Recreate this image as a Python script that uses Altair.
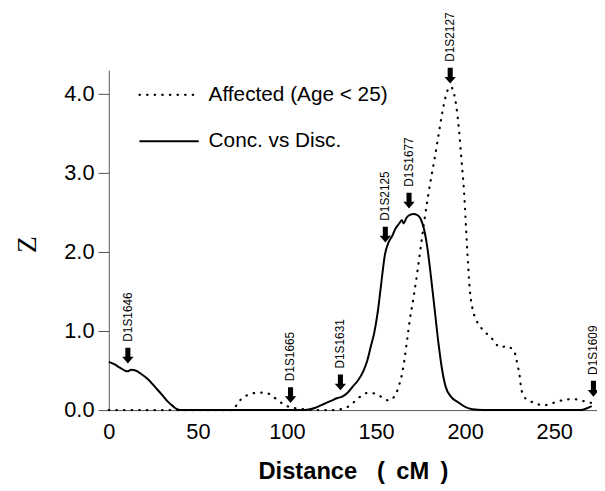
import altair as alt
import pandas as pd

FONT = "Liberation Sans"

# ---- data ----
solid_cm = [0, 3, 6, 9, 10.5, 12.5, 15, 18, 22, 26, 30, 33, 36, 38, 40, 60, 80, 100, 110,
            113, 116, 119, 122, 125, 128, 131, 134, 137, 140, 143, 145, 147, 149, 151, 153,
            155, 157, 159, 161, 163, 164.5, 165.5, 167, 169, 171, 173, 175, 177, 179, 181,
            183, 185, 187, 189, 192, 196, 200, 204, 210, 230, 250, 265, 268, 271]
solid_z = [0.61, 0.58, 0.54, 0.50, 0.49, 0.51, 0.50, 0.46, 0.39, 0.29, 0.19, 0.11, 0.05, 0.015, 0.0, 0.0, 0.0, 0.0, 0.0,
           0.01, 0.03, 0.06, 0.09, 0.12, 0.15, 0.17, 0.22, 0.30, 0.38, 0.50, 0.62, 0.80, 0.98, 1.25, 1.62,
           1.97, 2.12, 2.20, 2.30, 2.36, 2.40, 2.36, 2.43, 2.47, 2.48, 2.47, 2.42, 2.28, 2.02, 1.65,
           1.25, 0.85, 0.52, 0.30, 0.17, 0.10, 0.04, 0.01, 0.0, 0.0, 0.0, 0.0, 0.02, 0.05]

dotted_cm = [0, 20, 40, 60, 70, 72, 75, 79, 84, 88, 91, 94, 97, 100, 103, 106, 110, 115, 125,
             130, 134, 137, 140, 143, 146, 149, 152, 155, 157, 159, 161, 163, 164.5, 166, 167.5,
             169, 171, 173, 175, 177, 179, 181, 183, 185, 187, 189, 191, 192, 193.5, 195, 196.5,
             198, 199.5, 200.5, 201.5, 202.5, 204, 206, 208, 211, 214, 217, 219, 221, 223.5, 226,
             227.5, 228.7, 229.6, 230.5, 231, 231.7, 233, 236, 240, 244, 248, 252, 256, 260, 264,
             267, 271]
dotted_z = [0, 0, 0, 0, 0.0, 0.08, 0.15, 0.20, 0.22, 0.22, 0.19, 0.14, 0.09, 0.05, 0.03, 0.02, 0.01, 0.0, 0.0,
            0.01, 0.04, 0.09, 0.15, 0.20, 0.22, 0.21, 0.18, 0.14, 0.12, 0.14, 0.20, 0.32, 0.45, 0.65, 0.90,
            1.15, 1.42, 1.72, 2.05, 2.38, 2.68, 2.95, 3.20, 3.47, 3.74, 3.96, 4.08, 4.09, 4.02, 3.85, 3.55,
            3.15, 2.72, 2.30, 1.90, 1.55, 1.30, 1.15, 1.07, 0.99, 0.93, 0.85, 0.80, 0.80, 0.81, 0.78,
            0.75, 0.65, 0.55, 0.45, 0.35, 0.25, 0.17, 0.12, 0.08, 0.06, 0.08, 0.11, 0.13, 0.14, 0.13,
            0.11, 0.09]

marker_names = ["D1S1646", "D1S1665", "D1S1631", "D1S2125", "D1S1677", "D1S2127", "D1S1609"]
marker_cm = [10.7, 102, 130, 155.2, 168.5, 191.6, 272]
marker_z = [0.59, 0.09, 0.25, 2.12, 2.55, 4.13, 0.17]

legend_labels = ["Affected (Age < 25)", "Conc. vs Disc."]
x_ticks = [0, 50, 100, 150, 200, 250]
y_ticks = [0, 1, 2, 3, 4]

solid_df = pd.DataFrame({"cm": solid_cm, "z": solid_z})
dotted_df = pd.DataFrame({"cm": dotted_cm, "z": dotted_z})
marker_df = pd.DataFrame({"cm": marker_cm, "z": marker_z, "name": marker_names})
one = pd.DataFrame({"a": [0]})

xscale = alt.Scale(domain=[0, 274], nice=False, zero=False)
yscale = alt.Scale(domain=[0, 4.3], nice=False)

x_axis = alt.Axis(values=x_ticks, title="Distance\u00a0\u00a0\u00a0( \u2009cM\u2009 )", ticks=False, tickSize=0,
                  labelPadding=12, labelFontSize=22, titleFontSize=24, titleFontWeight="bold",
                  titlePadding=17, grid=False, domainColor="#555", labelColor="black",
                  titleColor="black", labelFont=FONT, titleFont=FONT, labelFlush=False,
                  labelOverlap=False)
y_axis = alt.Axis(values=y_ticks, format=".1f", title="Z", tickSize=11, tickColor="#555",
                  labelPadding=4, labelFontSize=22, titleFontSize=28, titleFontWeight="normal",
                  titlePadding=23, titleY=176, grid=False, domainColor="#555", labelColor="black",
                  titleColor="black", labelFont=FONT, titleFont="Liberation Serif", labelOverlap=False)

X = alt.X("cm:Q", scale=xscale, axis=x_axis)
Y = alt.Y("z:Q", scale=yscale, axis=y_axis)

solid = alt.Chart(solid_df).mark_line(color="black", strokeWidth=2, interpolate="monotone").encode(x=X, y=Y)
dotted = alt.Chart(dotted_df).mark_line(color="black", strokeWidth=2.2, strokeDash=[0.5, 7.2],
                                        strokeCap="round", interpolate="monotone").encode(x=X, y=Y)

arrow_path = "M -0.16 -1 L 0.16 -1 L 0.16 -0.42 L 0.36 -0.42 L 0 0 L -0.36 -0.42 L -0.16 -0.42 Z"
arrows = alt.Chart(marker_df).mark_point(shape=arrow_path, size=1024, filled=True, color="black",
                                         opacity=1, strokeWidth=0).encode(x=X, y=Y)
labels = alt.Chart(marker_df).mark_text(angle=270, align="left", baseline="middle", yOffset=-22,
                                        fontSize=12, font=FONT, color="black").encode(x=X, y=Y, text="name:N")

leg_dot = alt.Chart(one).mark_rule(color="black", strokeWidth=2.2, strokeDash=[0.5, 7.2],
                                   strokeCap="round").encode(x=alt.value(31), x2=alt.value(92), y=alt.value(25))
leg_solid = alt.Chart(one).mark_rule(color="black", strokeWidth=2).encode(
    x=alt.value(31), x2=alt.value(91), y=alt.value(72))
leg_t1 = alt.Chart(one).mark_text(text=legend_labels[0], align="left", baseline="middle", fontSize=21,
                                  font=FONT, color="black").encode(x=alt.value(101), y=alt.value(25))
leg_t2 = alt.Chart(one).mark_text(text=legend_labels[1], align="left", baseline="middle", fontSize=21,
                                  font=FONT, color="black").encode(x=alt.value(101), y=alt.value(72))

chart = alt.layer(solid, dotted, arrows, labels, leg_dot, leg_solid, leg_t1, leg_t2).properties(
    width=494, height=344,
    padding={"left": 102, "top": 60, "right": 0, "bottom": 78},
    autosize=alt.AutoSizeParams(type="none"),
    background="white",
).configure_view(stroke=None)

chart.save("out.html", embed_options={"renderer": "svg", "actions": False})
